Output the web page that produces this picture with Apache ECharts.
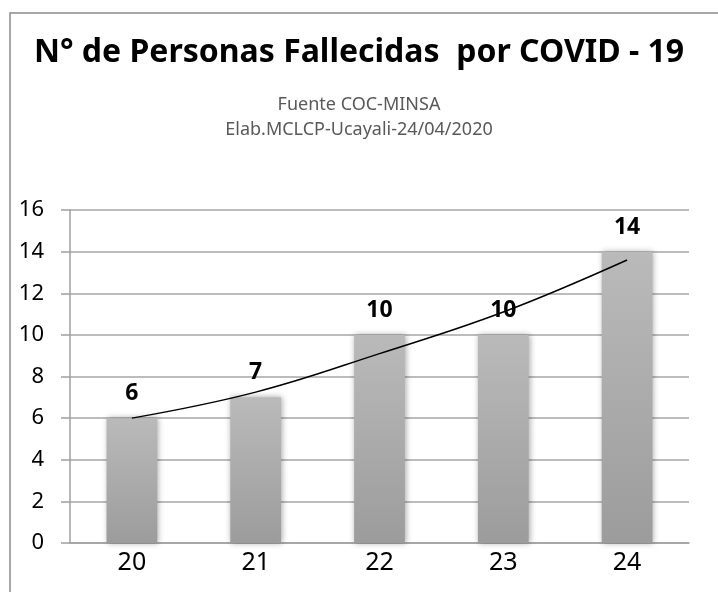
<!DOCTYPE html>
<html>
<head>
<meta charset="utf-8">
<script src="https://cdn.jsdelivr.net/npm/echarts@6/dist/echarts.min.js"></script>
<style>
  html, body { margin: 0; padding: 0; background: #fff; }
  #main { width: 718px; height: 592px; }
</style>
</head>
<body>
<div id="main"></div>
<script>
// dias de abril
var dias = ['20', '21', '22', '23', '24'];
// fallecidos acumulados
var fallecidos = [6, 7, 10, 10, 14];
// linea de tendencia
var tendencia = [6.0, 7.25, 9.1, 11.1, 13.6];
var yTicks = [0, 16, 2];

var option = {
    animation: false,
    backgroundColor: '#fff',
    title: [{
        text: 'N° de Personas Fallecidas  por COVID - 19',
        left: 'center',
        top: 32,
        textStyle: {
            fontFamily: '"Noto Sans", sans-serif',
            fontWeight: 'bold',
            fontSize: 32,
            color: '#000'
        }
    }, {
        text: 'Fuente COC-MINSA\nElab.MCLCP-Ucayali-24/04/2020',
        left: 'center',
        top: 87,
        textStyle: {
            fontFamily: '"Noto Sans", sans-serif',
            fontWeight: 'normal',
            fontSize: 18,
            lineHeight: 25,
            color: '#595959'
        }
    }],
    graphic: [{
        type: 'polyline',
        shape: { points: [[10, 592], [10, 13], [718, 13]] },
        style: { stroke: '#8c8c8c', lineWidth: 1.5, fill: null }
    }],
    grid: { left: 70, right: 29, top: 210, bottom: 49 },
    xAxis: {
        type: 'category',
        data: dias,
        axisLine: { lineStyle: { color: '#a0a0a0', width: 1.5 } },
        axisTick: { show: false },
        axisLabel: {
            margin: 7,
            fontFamily: '"Noto Sans", sans-serif',
            fontSize: 25,
            color: '#000'
        }
    },
    yAxis: {
        type: 'value',
        min: yTicks[0],
        max: yTicks[1],
        interval: yTicks[2],
        axisLine: { show: true, lineStyle: { color: '#a0a0a0', width: 1.5 } },
        axisTick: { show: true, length: 9, lineStyle: { color: '#a0a0a0', width: 1.5 } },
        splitLine: { lineStyle: { color: '#a6a6a6', width: 1.5 } },
        axisLabel: {
            margin: 26,
            fontFamily: '"Noto Sans", sans-serif',
            fontSize: 22,
            color: '#000'
        }
    },
    series: [{
        type: 'bar',
        data: fallecidos,
        barWidth: '41%',
        itemStyle: {
            color: new echarts.graphic.LinearGradient(0, 0, 0, 1, [
                { offset: 0, color: '#bababa' },
                { offset: 1, color: '#9c9c9c' }
            ]),
            shadowBlur: 6,
            shadowColor: 'rgba(0,0,0,0.35)',
            shadowOffsetX: 1
        },
        label: {
            show: true,
            position: 'top',
            distance: 13,
            fontFamily: '"Noto Sans", sans-serif',
            fontWeight: 'bold',
            fontSize: 23,
            color: '#000'
        },
        z: 2
    }, {
        type: 'line',
        data: tendencia,
        smooth: 0.4,
        symbol: 'none',
        lineStyle: { color: '#000', width: 1.5 },
        z: 3
    }]
};

var myChart = echarts.init(document.getElementById('main'));
myChart.setOption(option);
</script>
</body>
</html>
